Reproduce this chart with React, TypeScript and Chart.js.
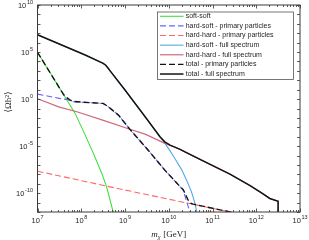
import React, { useEffect, useRef } from "react";
import { Chart, registerables } from "chart.js";

Chart.register(...registerables);

// Axis limits
const X_MIN = 1e7;
const X_MAX = 1e13;
const Y_MIN = 1e-12;
const Y_MAX = 1e10;

// Tick label exponents
const xTickExps = [7, 8, 9, 10, 11, 12, 13];
const yTickExps = [10, 5, 0, -5, -10];

// Series values: log10(m_chi/GeV) and log10(<Omega h^2>)
const softSoftLogM = [7.0, 7.5, 7.86, 8.09, 8.275, 8.47, 8.58, 8.73, 8.77];
const softSoftLogO = [4.97, 1.2, -1.52, -3.83, -5.74, -7.9, -9.33, -12.0, -12.8];

const hsPrimLogM = [7.0, 7.5, 7.67, 7.82, 8.2, 8.5, 8.6, 8.85, 9.11, 9.53, 9.91, 10.26, 10.33, 10.45, 10.49];
const hsPrimLogO = [0.53, 0.08, -0.05, -0.28, -0.38, -0.46, -0.75, -1.7, -3.2, -5.43, -7.55, -9.33, -9.68, -11.5, -12.1];

const hhPrimLogM = [7.0, 8.58, 10.37, 11.5];
const hhPrimLogO = [-7.66, -9.25, -11.0, -12.1];

const hsFullLogM = [7.0, 8.09, 8.5, 8.56, 8.62, 8.66, 9.0, 9.46, 9.8, 9.91, 10.03, 10.14, 10.3, 10.42, 10.52, 10.6, 10.64, 10.66];
const hsFullLogO = [6.84, 4.68, 3.8, 3.6, 3.25, 3.0, 0.96, -1.88, -4.05, -4.68, -5.5, -6.31, -7.55, -8.75, -9.86, -11.1, -12.0, -12.5];

const hhFullLogM = [7.0, 7.5, 7.9, 8.54, 9.11, 9.46, 9.91, 10.03, 10.14, 10.26, 10.37, 10.83, 11.4, 11.86, 12.13, 12.31, 12.5, 12.5];
const hhFullLogO = [0.03, -0.85, -1.35, -2.31, -3.2, -3.72, -4.71, -4.93, -5.12, -5.35, -5.61, -6.67, -7.98, -9.2, -10.0, -10.56, -10.85, -13.0];

const totPrimLogM = [7.0, 7.5, 7.6, 7.67, 7.75, 7.82, 8.2, 8.5, 8.6, 8.85, 9.11, 9.53, 9.91, 10.26, 10.33, 10.4, 10.46, 10.52, 10.56, 11.5];
const totPrimLogO = [4.97, 1.2, 0.45, 0.15, -0.12, -0.25, -0.38, -0.46, -0.75, -1.7, -3.2, -5.43, -7.55, -9.3, -9.62, -10.3, -10.9, -11.12, -11.17, -12.1];

const totFullLogM = [7.0, 8.09, 8.5, 8.56, 8.62, 8.66, 9.0, 9.46, 9.8, 9.91, 10.03, 10.14, 10.26, 10.37, 10.83, 11.4, 11.86, 12.13, 12.31, 12.5, 12.5];
const totFullLogO = [6.84, 4.68, 3.8, 3.6, 3.25, 3.0, 0.96, -1.88, -4.01, -4.54, -4.89, -5.1, -5.35, -5.61, -6.67, -7.98, -9.2, -10.0, -10.56, -10.85, -13.0];

const seriesLabels = [
  "soft-soft",
  "hard-soft - primary particles",
  "hard-hard - primary particles",
  "hard-soft - full spectrum",
  "hard-hard - full spectrum",
  "total - primary particles",
  "total - full spectrum",
];

const toPoints = (lm: number[], lo: number[]) =>
  lm.map((m, i) => ({ x: Math.pow(10, m), y: Math.pow(10, lo[i]) }));

const BASE_FONT = '7.5px "Liberation Sans", Arial, sans-serif';
const SUP_FONT = '5.5px "Liberation Sans", Arial, sans-serif';
const TEXT_COLOR = "#262626";

function drawPow(ctx: CanvasRenderingContext2D, exp: string, x: number, y: number, align: "center" | "right") {
  ctx.font = BASE_FONT;
  const bw = ctx.measureText("10").width;
  ctx.font = SUP_FONT;
  const ew = ctx.measureText(exp).width;
  const total = bw + 0.6 + ew;
  const x0 = align === "center" ? x - total / 2 : x - total;
  ctx.textAlign = "left";
  ctx.textBaseline = "middle";
  ctx.fillStyle = TEXT_COLOR;
  ctx.font = BASE_FONT;
  ctx.fillText("10", x0, y);
  ctx.font = SUP_FONT;
  ctx.fillText(exp, x0 + bw + 0.6, y - 3.4);
}

const axesPlugin = {
  id: "matlabAxes",
  afterDraw(chart: any) {
    const { ctx, chartArea: a, scales } = chart;
    const xs = scales.x;
    const ys = scales.y;
    ctx.save();
    // ticks
    ctx.strokeStyle = "#333333";
    ctx.lineWidth = 0.8;
    const seg = (x1: number, y1: number, x2: number, y2: number) => {
      ctx.beginPath();
      ctx.moveTo(x1, y1);
      ctx.lineTo(x2, y2);
      ctx.stroke();
    };
    for (let e = 7; e <= 13; e++) {
      for (let k = 1; k <= 9; k++) {
        if (e === 13 && k > 1) break;
        const px = Math.round(xs.getPixelForValue(k * Math.pow(10, e))) + 0.5;
        const len = k === 1 ? 3.5 : 2;
        seg(px, a.bottom, px, a.bottom - len);
        seg(px, a.top, px, a.top + len);
      }
    }
    for (let e = -12; e <= 10; e++) {
      const py = Math.round(ys.getPixelForValue(Math.pow(10, e))) + 0.5;
      seg(a.left, py, a.left + 3, py);
      seg(a.right, py, a.right - 3, py);
    }
    // frame
    ctx.lineWidth = 1;
    ctx.strokeStyle = "#3a3a3a";
    ctx.strokeRect(a.left, a.top, a.right - a.left, a.bottom - a.top);

    // tick labels
    xTickExps.forEach((e) => {
      const px = xs.getPixelForValue(Math.pow(10, e));
      drawPow(ctx, String(e), px, a.bottom + 9, "center");
    });
    yTickExps.forEach((e) => {
      const py = ys.getPixelForValue(Math.pow(10, e));
      drawPow(ctx, String(e), a.left - 4.5, py + 1, "right");
    });

    // x title: m_chi [GeV]
    ctx.fillStyle = TEXT_COLOR;
    ctx.textBaseline = "alphabetic";
    ctx.textAlign = "left";
    const fItal = 'italic 9px "Liberation Serif", "DejaVu Serif", serif';
    const fSub = 'italic 6.5px "Liberation Serif", "DejaVu Serif", serif';
    const fRom = '9px "Liberation Serif", "DejaVu Serif", serif';
    ctx.font = fItal;
    const wm = ctx.measureText("m").width;
    ctx.font = fSub;
    const wc = ctx.measureText("χ").width;
    ctx.font = fRom;
    const wg = ctx.measureText(" [GeV]").width;
    const tw = wm + wc + 0.5 + wg;
    const cx = (a.left + a.right) / 2;
    let tx = cx - tw / 2;
    const by = 236.5;
    ctx.font = fItal;
    ctx.fillText("m", tx, by);
    tx += wm;
    ctx.font = fSub;
    ctx.fillText("χ", tx, by + 2);
    tx += wc + 0.5;
    ctx.font = fRom;
    ctx.fillText(" [GeV]", tx, by);

    // y title
    ctx.save();
    ctx.translate(10.5, 102);
    ctx.rotate(-Math.PI / 2);
    ctx.textAlign = "center";
    ctx.textBaseline = "alphabetic";
    ctx.font = '9px "Liberation Serif", "DejaVu Serif", serif';
    ctx.fillText("⟨Ωh²⟩", 0, 0);
    ctx.restore();

    // legend
    const lx0 = 157.5;
    const ly0 = 12;
    const lx1 = 293.5;
    const ly1 = 79.5;
    ctx.fillStyle = "#ffffff";
    ctx.fillRect(lx0, ly0, lx1 - lx0, ly1 - ly0);
    ctx.strokeStyle = "#555555";
    ctx.lineWidth = 0.8;
    ctx.strokeRect(lx0, ly0, lx1 - lx0, ly1 - ly0);
    chart.data.datasets.forEach((ds: any, i: number) => {
      const yy = 16.3 + i * 9.62;
      ctx.save();
      ctx.strokeStyle = ds.borderColor;
      ctx.lineWidth = ds.borderWidth;
      ctx.setLineDash(ds.borderDash || []);
      ctx.beginPath();
      ctx.moveTo(160, yy);
      ctx.lineTo(183.5, yy);
      ctx.stroke();
      ctx.restore();
      ctx.fillStyle = TEXT_COLOR;
      ctx.font = '7px "Liberation Sans", Arial, sans-serif';
      ctx.textAlign = "left";
      ctx.textBaseline = "middle";
      ctx.fillText(ds.label, 185.7, yy);
    });
    ctx.restore();
  },
};

export default function App() {
  const ref = useRef<HTMLCanvasElement | null>(null);
  useEffect(() => {
    if (!ref.current) return;
    const mk = (
      i: number,
      lm: number[],
      lo: number[],
      color: string,
      width: number,
      dash: number[],
      order: number
    ) => ({
      label: seriesLabels[i],
      data: toPoints(lm, lo),
      borderColor: color,
      backgroundColor: color,
      borderWidth: width,
      borderDash: dash,
      pointRadius: 0,
      fill: false,
      tension: 0,
      order,
    });
    const chart = new Chart(ref.current, {
      type: "line",
      data: {
        datasets: [
          mk(0, softSoftLogM, softSoftLogO, "#3fe03f", 1.1, [], 7),
          mk(1, hsPrimLogM, hsPrimLogO, "#6464ff", 1.1, [6, 3], 6),
          mk(2, hhPrimLogM, hhPrimLogO, "#ff6666", 1.1, [6, 3], 5),
          mk(3, hsFullLogM, hsFullLogO, "#55a8e0", 1.1, [], 4),
          mk(4, hhFullLogM, hhFullLogO, "#cd6a7d", 1.2, [], 3),
          mk(5, totPrimLogM, totPrimLogO, "#141414", 1.4, [6, 3], 2),
          mk(6, totFullLogM, totFullLogO, "#141414", 1.5, [], 1),
        ],
      },
      options: {
        responsive: false,
        animation: false,
        devicePixelRatio: 1,
        layout: { padding: { left: 37.5, right: 9, top: 5, bottom: 28 } },
        plugins: { legend: { display: false }, tooltip: { enabled: false } },
        scales: {
          x: { type: "logarithmic", min: X_MIN, max: X_MAX, display: false },
          y: { type: "logarithmic", min: Y_MIN, max: Y_MAX, display: false },
        },
      },
      plugins: [axesPlugin],
    });
    return () => chart.destroy();
  }, []);
  return (
    <div style={{ position: "absolute", left: 0, top: 0, width: 309, height: 240, background: "#fff" }}>
      <canvas ref={ref} width={309} height={240} style={{ display: "block", width: 309, height: 240 }} />
    </div>
  );
}
